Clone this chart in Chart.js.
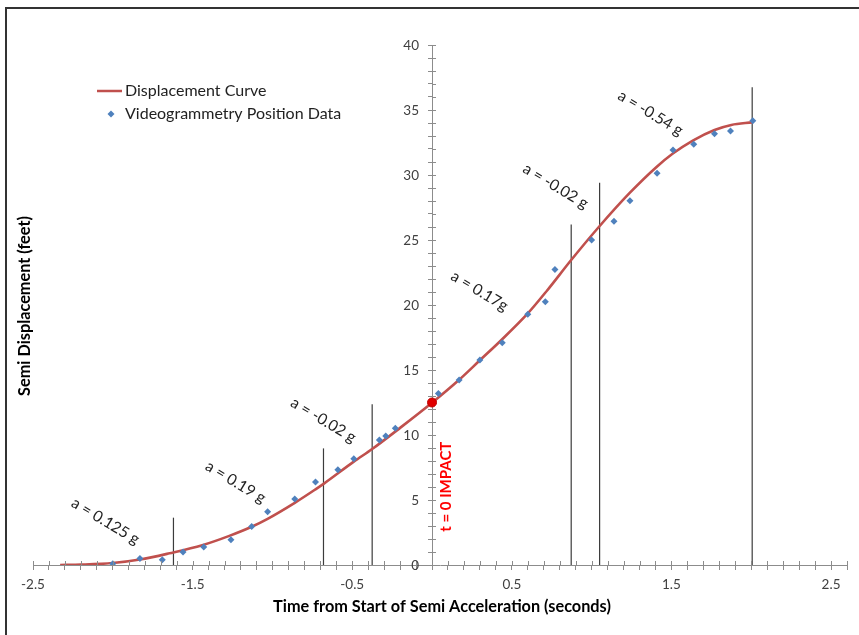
<!DOCTYPE html>
<html>
<head>
<meta charset="utf-8">
<script src="https://cdn.jsdelivr.net/npm/chart.js@4.4.1/dist/chart.umd.min.js"></script>
<style>
  html, body { margin: 0; padding: 0; background: #fff; }
  #box { width: 859px; height: 635px; }
</style>
</head>
<body>
<div id="box"><canvas id="chart" width="859" height="635"></canvas></div>
<script>
// fitted displacement curve (seconds, feet)
const curveTime = [-2.33, -2.2, -2.0, -1.83, -1.645, -1.44, -1.27, -1.13, -1.03, -0.86, -0.73, -0.675, -0.49, -0.375, -0.2, 0, 0.17, 0.3, 0.43, 0.6, 0.72, 0.872, 1.045, 1.237, 1.405, 1.509, 1.634, 1.77, 1.875, 2.006];
const curveFeet = [0, 0.03, 0.15, 0.42, 0.9, 1.52, 2.24, 2.94, 3.55, 4.78, 5.82, 6.28, 7.95, 8.92, 10.55, 12.48, 14.25, 15.75, 17.25, 19.35, 21.1, 23.46, 26.0, 28.6, 30.6, 31.65, 32.65, 33.46, 33.85, 34.05];

// videogrammetry position samples
const sampleTime = [-2.0, -1.83, -1.69, -1.56, -1.43, -1.26, -1.13, -1.03, -0.86, -0.73, -0.59, -0.49, -0.33, -0.29, -0.23, 0.04, 0.17, 0.3, 0.44, 0.6, 0.71, 0.77, 1.0, 1.14, 1.24, 1.41, 1.51, 1.64, 1.77, 1.87, 2.01];
const sampleFeet = [0.1, 0.5, 0.4, 1.0, 1.38, 1.95, 2.97, 4.1, 5.08, 6.38, 7.33, 8.18, 9.62, 9.92, 10.51, 13.2, 14.23, 15.77, 17.1, 19.28, 20.25, 22.74, 25.0, 26.44, 28.02, 30.13, 31.92, 32.36, 33.18, 33.38, 34.18];

// impact marker
const impactTime = [0];
const impactFeet = [12.5];

// phase boundaries (vertical dividers from the x axis up)
const boundaryTime = [-1.62, -0.68, -0.375, 0.872, 1.05, 2.006];
const boundaryTop = [3.64, 8.97, 12.36, 26.2, 29.4, 36.75];

// acceleration notes, anchored in data units
const phaseLabels = ["a = 0.125 g", "a = 0.19 g", "a = -0.02 g", "a = 0.17g", "a = -0.02 g", "a = -0.54 g"];
const phaseLabelTime = [-2.046, -1.231, -0.68, 0.298, 0.774, 1.369];
const phaseLabelFeet = [3.38, 6.38, 11.15, 21.08, 29.15, 34.77];

const FONT = "Lato, 'Open Sans', sans-serif";
const AXIS = "#8c8c8c";
const RED = "#c0504d";
const BLUE = "#4f81bd";

const toPts = (xs, ys) => xs.map((x, i) => ({ x, y: ys[i] }));

const boundarySets = boundaryTime.map((t, i) => ({
  label: "boundary",
  data: [{ x: t, y: 0 }, { x: t, y: boundaryTop[i] }],
  showLine: true,
  borderColor: "#3c3c3c",
  borderWidth: 1.2,
  pointRadius: 0,
  order: 5,
}));

// inner half of the cross tick marks + y tick labels (the y axis sits at x = 0)
const crossTicks = {
  id: "crossTicks",
  afterDraw(chart) {
    const { ctx, scales } = chart;
    const xs = scales.x, ys = scales.y;
    const x0 = xs.getPixelForValue(0);
    const y0 = ys.getPixelForValue(0);
    ctx.save();
    ctx.strokeStyle = AXIS;
    ctx.lineWidth = 1;
    ctx.beginPath();
    xs.ticks.forEach((t) => {
      const px = Math.round(xs.getPixelForValue(t.value)) + 0.5;
      ctx.moveTo(px, y0);
      ctx.lineTo(px, y0 - 4);
    });
    ys.ticks.forEach((t) => {
      const py = Math.round(ys.getPixelForValue(t.value)) + 0.5;
      ctx.moveTo(x0, py);
      ctx.lineTo(x0 + 4, py);
    });
    ctx.stroke();

    ctx.fillStyle = "#404040";
    ctx.font = "13.5px " + FONT;
    ctx.textAlign = "right";
    ctx.textBaseline = "middle";
    ys.ticks.forEach((t) => {
      const v = Math.round(t.value);
      if (v % 5 === 0) ctx.fillText(String(v), x0 - 13, ys.getPixelForValue(v) + 1);
    });
    ctx.restore();
  },
};

// notes, titles, legend and the frame
const overlay = {
  id: "overlay",
  afterDraw(chart) {
    const { ctx, scales } = chart;
    const xs = scales.x, ys = scales.y;
    ctx.save();

    // frame (top + left edge of the original figure)
    ctx.strokeStyle = "#333";
    ctx.lineWidth = 2;
    ctx.beginPath();
    ctx.moveTo(6, 635);
    ctx.lineTo(6, 8);
    ctx.lineTo(859, 8);
    ctx.stroke();

    // phase notes
    ctx.fillStyle = "#222";
    ctx.font = "15.5px " + FONT;
    ctx.textAlign = "center";
    ctx.textBaseline = "middle";
    phaseLabels.forEach((txt, i) => {
      ctx.save();
      ctx.translate(xs.getPixelForValue(phaseLabelTime[i]), ys.getPixelForValue(phaseLabelFeet[i]));
      ctx.rotate((31 * Math.PI) / 180);
      ctx.fillText(txt, 0, 0);
      ctx.restore();
    });

    // impact note
    ctx.save();
    ctx.fillStyle = "#ff0000";
    ctx.font = "bold 15px " + FONT;
    ctx.translate(xs.getPixelForValue(0.089), ys.getPixelForValue(6.02));
    ctx.rotate(-Math.PI / 2);
    ctx.fillText("t = 0 IMPACT", 0, 0);
    ctx.restore();

    // axis titles
    ctx.fillStyle = "#000";
    ctx.font = "bold 16.3px " + FONT;
    ctx.fillText("Time from Start of Semi Acceleration (seconds)", 442, 607);
    ctx.save();
    ctx.translate(25, 306);
    ctx.rotate(-Math.PI / 2);
    ctx.fillText("Semi Displacement (feet)", 0, 0);
    ctx.restore();

    // legend
    ctx.textAlign = "left";
    ctx.font = "16px " + FONT;
    ctx.fillStyle = "#222";
    ctx.strokeStyle = RED;
    ctx.lineWidth = 2.5;
    ctx.beginPath();
    ctx.moveTo(97, 91);
    ctx.lineTo(122, 91);
    ctx.stroke();
    ctx.fillText(chart.data.datasets[0].label, 125, 91);
    ctx.fillStyle = BLUE;
    ctx.beginPath();
    ctx.moveTo(111, 110.5);
    ctx.lineTo(114.5, 114);
    ctx.lineTo(111, 117.5);
    ctx.lineTo(107.5, 114);
    ctx.closePath();
    ctx.fill();
    ctx.fillStyle = "#222";
    ctx.fillText(chart.data.datasets[1].label, 125, 114);

    ctx.restore();
  },
};

new Chart(document.getElementById("chart"), {
  type: "scatter",
  data: {
    datasets: [
      {
        label: "Displacement Curve",
        data: toPts(curveTime, curveFeet),
        showLine: true,
        borderColor: RED,
        borderWidth: 2.6,
        pointRadius: 0,
        cubicInterpolationMode: "monotone",
        order: 3,
      },
      {
        label: "Videogrammetry Position Data",
        data: toPts(sampleTime, sampleFeet),
        pointStyle: "rectRot",
        pointRadius: 3.5,
        backgroundColor: BLUE,
        borderColor: BLUE,
        borderWidth: 0,
        order: 1,
      },
      {
        label: "Impact",
        data: toPts(impactTime, impactFeet),
        pointRadius: 4.5,
        backgroundColor: "#e00000",
        borderColor: "#c00000",
        borderWidth: 1,
        order: 0,
      },
      ...boundarySets,
    ],
  },
  options: {
    responsive: false,
    animation: false,
    layout: { padding: { left: 33, right: 12, top: 45, bottom: 70 } },
    plugins: { legend: { display: false }, tooltip: { enabled: false } },
    scales: {
      x: {
        type: "linear",
        position: { y: 0 },
        min: -2.5,
        max: 2.6,
        grid: { display: true, drawOnChartArea: false, drawTicks: true, tickLength: 4, color: AXIS, tickColor: AXIS },
        border: { display: true, color: AXIS, width: 1 },
        ticks: {
          stepSize: 0.1,
          autoSkip: false,
          maxRotation: 0,
          padding: 8,
          color: "#404040",
          font: { family: FONT, size: 13.5 },
          callback: (v) => {
            const r = Math.round((v + 2.5) * 10);
            return r % 10 === 0 ? String(Math.round(v * 10) / 10) : "";
          },
        },
      },
      y: {
        type: "linear",
        position: { x: 0 },
        min: 0,
        max: 40,
        grid: { display: true, drawOnChartArea: false, drawTicks: true, tickLength: 4, color: AXIS, tickColor: AXIS },
        border: { display: true, color: AXIS, width: 1 },
        ticks: { stepSize: 1, autoSkip: false, display: false },
      },
    },
  },
  plugins: [crossTicks, overlay],
});
</script>
</body>
</html>
